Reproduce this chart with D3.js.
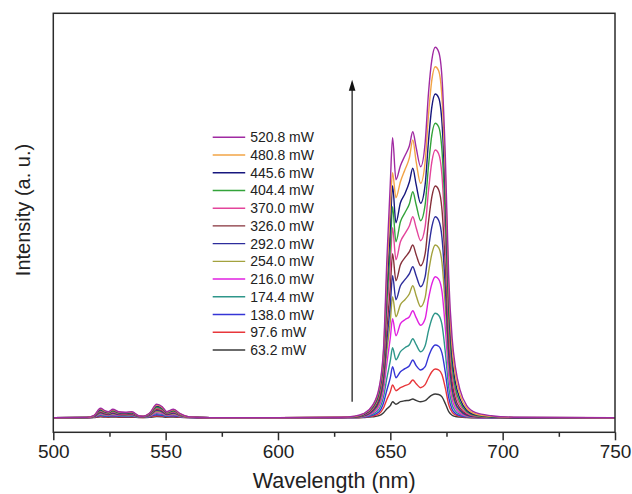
<!DOCTYPE html>
<html>
<head>
<meta charset="utf-8">
<script src="https://cdnjs.cloudflare.com/ajax/libs/d3/7.8.5/d3.min.js"></script>
<style>
  body { margin: 0; background: #fff; }
  svg { display: block; font-family: "Liberation Sans", Arial, sans-serif; }
  .frame { fill: none; stroke: #2b2b2b; stroke-width: 1.5; }
  .tick line { stroke: #2b2b2b; stroke-width: 1.5; }
  .tick text { fill: #222; }
  .spec { fill: none; stroke-width: 1.4; stroke-linejoin: round; }
</style>
</head>
<body>
<svg id="chart" width="632" height="494"></svg>
<script>
// wavelength grid (nm)
const wavelengths = [
  500, 515, 518, 521, 523, 524.5, 526.5, 529, 532, 535, 538, 540, 543, 546, 548.5, 550.5, 553.5, 556.5, 560, 570,
  600, 628, 634, 638, 642, 645, 647, 648.5, 650, 651, 652.5, 654.5, 656.5, 658.5, 660, 661.5, 663.5, 665.5,
  667, 668.5, 670, 671.5, 673, 674.5, 676, 677.5, 679, 681, 684, 688, 695, 705, 750
];

// pump powers, low to high
const powers = ['63.2 mW', '97.6 mW', '138.0 mW', '174.4 mW', '216.0 mW', '254.0 mW', '292.0 mW',
  '326.0 mW', '370.0 mW', '404.4 mW', '445.6 mW', '480.8 mW', '520.8 mW'];

const colors = ['#3a3a3a', '#e8373b', '#3535d6', '#2e968a', '#e021e0', '#a3a23e', '#2d2d9c',
  '#86303a', '#e3449b', '#33a33a', '#17177e', '#f2a446', '#a02aa2'];

// intensity (a. u.) at each wavelength
const i63_2 = [0, 0, 0.2, 0.8, 0.6, 0.5, 0.7, 0.5, 0.4, 0.5, 0.2, 0.1, 0.4, 1.1, 0.9, 0.5, 0.7, 0.3, 0.1, 0,
  0, 0, 0, 0.2, 0.8, 2, 5, 9, 12, 16, 13.5, 16, 17, 17.5, 18.7, 17.3, 16, 17, 20, 22.5, 23.7, 23.2, 20.8, 14, 6, 2.4, 1.2, 0.6, 0.2, 0, 0, 0, 0];
const i97_6 = [0, 0, 0.3, 1.4, 1.1, 0.9, 1.3, 0.9, 0.8, 0.9, 0.3, 0.2, 0.8, 2, 1.7, 0.9, 1.3, 0.6, 0.2, 0,
  0, 0, 0.1, 0.4, 1.6, 4, 10, 18.5, 26, 32.7, 27, 30, 32, 34, 37.7, 34, 30, 33, 40, 46, 48.7, 47.8, 43, 29.5, 13, 5.5, 2.8, 1.4, 0.5, 0.1, 0, 0, 0];
const i138_0 = [0, 0.1, 0.4, 2.1, 1.5, 1.3, 1.9, 1.3, 1.2, 1.3, 0.4, 0.3, 1.1, 3, 2.4, 1.3, 1.9, 0.9, 0.2, 0,
  0, 0, 0.2, 0.6, 2.4, 6, 15, 28, 40, 51, 40, 46, 49, 52, 57.7, 52, 47.7, 51, 61, 69, 72.7, 71.5, 64.5, 45, 20, 8.5, 4.3, 2.1, 0.8, 0.2, 0, 0, 0];
const i174_4 = [0, 0.1, 0.6, 2.9, 2.1, 1.8, 2.6, 1.8, 1.7, 1.8, 0.6, 0.5, 1.5, 4.1, 3.3, 1.8, 2.6, 1.2, 0.3, 0,
  0, 0, 0.3, 0.9, 3.4, 8.5, 21, 40, 57, 70, 58, 66, 70, 73, 79, 73, 66, 72, 87, 99, 104.4, 102.5, 93, 65, 30, 13, 6.5, 3.2, 1.1, 0.3, 0, 0, 0];
const i216_0 = [0, 0.1, 0.8, 3.6, 2.7, 2.3, 3.2, 2.3, 2.1, 2.3, 0.8, 0.6, 1.9, 5.1, 4.2, 2.3, 3.2, 1.5, 0.4, 0,
  0, 0.1, 0.4, 1.2, 4.6, 11.5, 28, 55, 80, 99, 82, 94, 98, 101, 107, 100, 92.5, 99, 119, 134, 141, 138.5, 126, 89, 42, 18.5, 9.5, 4.6, 1.6, 0.4, 0.1, 0, 0];
const i254_0 = [0, 0.1, 0.9, 4.4, 3.2, 2.8, 3.9, 2.8, 2.5, 2.8, 0.9, 0.7, 2.3, 6.2, 5.1, 2.8, 3.9, 1.8, 0.5, 0,
  0, 0.1, 0.5, 1.5, 5.6, 14, 34, 67, 97, 121, 101, 113, 118, 124, 132, 122, 111, 120, 145, 164, 172.7, 170, 155, 110, 53, 24, 12.5, 6.2, 2.2, 0.6, 0.1, 0, 0];
const i292_0 = [0, 0.2, 1.1, 5.1, 3.8, 3.2, 4.6, 3.2, 3, 3.2, 1.1, 0.8, 2.7, 7.3, 5.9, 3.2, 4.6, 2.2, 0.5, 0,
  0, 0.1, 0.6, 1.8, 6.5, 16.5, 39, 78, 113, 142, 118, 132, 138, 144, 151, 142, 131, 141, 169, 191, 201, 197.5, 180, 129, 63, 29, 15, 7.5, 2.7, 0.8, 0.2, 0, 0];
const i326_0 = [0, 0.2, 1.2, 5.9, 4.3, 3.7, 5.3, 3.7, 3.4, 3.7, 1.2, 0.9, 3.1, 8.4, 6.8, 3.7, 5.3, 2.5, 0.6, 0,
  0, 0.2, 0.7, 2.2, 7.5, 19, 45, 90, 131, 164, 137, 153, 160, 166, 172.7, 163, 152, 164, 196, 221, 231.7, 228, 208, 151, 76, 36, 19, 9.5, 3.5, 1.1, 0.3, 0, 0];
const i370_0 = [0, 0.2, 1.4, 6.7, 4.9, 4.2, 6, 4.2, 3.9, 4.2, 1.4, 1.1, 3.5, 9.5, 7.7, 4.2, 6, 2.8, 0.7, 0,
  0, 0.2, 0.8, 2.6, 8.7, 22, 52, 105, 153, 190, 158, 176, 184, 192, 201, 190, 177, 191, 227, 256, 267.7, 264, 242, 178, 91, 44, 24, 12.5, 4.6, 1.6, 0.5, 0.1, 0];
const i404_4 = [0, 0.2, 1.6, 7.4, 5.5, 4.7, 6.6, 4.7, 4.3, 4.7, 1.6, 1.2, 3.9, 10.5, 8.6, 4.7, 6.6, 3.1, 0.8, 0,
  0, 0.3, 0.9, 2.9, 9.5, 24, 57, 117, 170, 211, 176, 196, 205, 214, 226, 213, 197, 213, 252, 283, 294.4, 291, 267, 199, 103, 52, 29, 15.5, 6, 2.2, 0.7, 0.1, 0];
const i445_6 = [0, 0.3, 1.7, 8.2, 6, 5.2, 7.3, 5.2, 4.7, 5.2, 1.7, 1.3, 4.3, 11.6, 9.5, 5.2, 7.3, 3.4, 0.9, 0,
  0, 0.3, 1, 3.2, 10.5, 26.5, 62, 130, 190, 232, 195, 215, 224, 236, 249.4, 233, 214.4, 233, 277, 311, 323.7, 320, 295, 222, 118, 61, 35, 19, 7.5, 2.8, 0.9, 0.2, 0];
const i480_8 = [0, 0.3, 1.9, 8.8, 6.5, 5.6, 7.9, 5.6, 5.1, 5.6, 1.9, 1.4, 4.7, 12.6, 10.2, 5.6, 7.9, 3.7, 0.9, 0,
  0, 0.4, 1.2, 3.6, 11.3, 28.5, 67, 145, 212, 245, 220, 236, 248, 260, 277.7, 256, 234.4, 256, 303, 338, 351, 347, 320, 243, 130, 70, 42, 23, 9.5, 3.7, 1.3, 0.3, 0];
const i520_8 = [0, 0.3, 2, 9.5, 7, 6, 8.5, 6, 5.5, 6, 2, 1.5, 5, 13.5, 11, 6, 8.5, 4, 1, 0,
  0, 0.5, 1.5, 4, 12, 30, 70, 160, 235, 280, 238, 252, 262, 272, 286, 270, 251, 275, 325, 358, 370.4, 366, 340, 260, 140, 80, 50, 28, 12, 5, 2, 0.5, 0];

const spectra = [i63_2, i97_6, i138_0, i174_4, i216_0, i254_0, i292_0, i326_0, i370_0, i404_4, i445_6, i480_8, i520_8];

const majorTicks = [500, 550, 600, 650, 700, 750];
const minorTicks = [525, 575, 625, 675, 725];

// arrow marking increasing power: wavelength, from / to intensity
const arrowAt = 633;
const arrowFrom = 16;
const arrowTo = 338;

const margin = {top: 13.3, right: 17, bottom: 61.7, left: 53.3};
const svgW = 632, svgH = 494;
const width = svgW - margin.left - margin.right;
const height = svgH - margin.top - margin.bottom;

const svg = d3.select('#chart');
const chart = svg.append('g')
  .attr('transform', `translate(${margin.left}, ${margin.top})`);

const x = d3.scaleLinear().domain([500, 750]).range([0, width]);
const y = d3.scaleLinear().domain([-14.6, 404.4]).range([height, 0]);

chart.append('clipPath').attr('id', 'clip')
  .append('rect').attr('width', width).attr('height', height);

const line = d3.line()
  .x((d, i) => x(wavelengths[i]))
  .y(d => y(d))
  .curve(d3.curveMonotoneX);

chart.append('g')
  .attr('clip-path', 'url(#clip)')
  .selectAll('path')
  .data(spectra)
  .enter().append('path')
  .attr('class', 'spec')
  .attr('stroke', (d, i) => colors[i])
  .attr('d', line);

// arrow
const ax = x(arrowAt);
chart.append('line')
  .attr('x1', ax).attr('x2', ax)
  .attr('y1', y(arrowFrom)).attr('y2', y(arrowTo) + 8)
  .attr('stroke', '#111').attr('stroke-width', 1.2);
chart.append('path')
  .attr('d', `M${ax},${y(arrowTo)} L${ax - 3.3},${y(arrowTo) + 11} L${ax + 3.3},${y(arrowTo) + 11} Z`)
  .attr('fill', '#111');

// x axis
const xAxis = d3.axisBottom(x)
  .tickValues(majorTicks)
  .tickSize(8)
  .tickPadding(4)
  .tickFormat(d3.format('d'));

const axisX = chart.append('g')
  .attr('transform', `translate(0, ${height})`)
  .call(xAxis);
axisX.select('.domain').remove();
axisX.selectAll('text').attr('font-size', 19).attr('font-family', '"Liberation Sans", Arial, sans-serif');

chart.append('g')
  .attr('transform', `translate(0, ${height})`)
  .call(d3.axisBottom(x).tickValues(minorTicks).tickSize(4.5).tickFormat(''))
  .select('.domain').remove();

// frame
chart.append('rect')
  .attr('class', 'frame')
  .attr('width', width)
  .attr('height', height);

// axis titles
svg.append('text')
  .attr('x', margin.left + width / 2)
  .attr('y', 488)
  .attr('text-anchor', 'middle')
  .attr('font-size', 21.5)
  .attr('fill', '#222')
  .text('Wavelength (nm)');

svg.append('text')
  .attr('transform', 'translate(29.5, 210) rotate(-90)')
  .attr('text-anchor', 'middle')
  .attr('font-size', 20)
  .attr('fill', '#222')
  .text('Intensity (a. u.)');

// legend, highest power on top
const legend = svg.append('g').attr('transform', 'translate(212.7, 137.3)');
const rows = d3.range(powers.length).reverse();
const item = legend.selectAll('g')
  .data(rows)
  .enter().append('g')
  .attr('transform', (d, i) => `translate(0, ${i * 17.72})`);
item.append('line')
  .attr('x1', 0).attr('x2', 32.5)
  .attr('stroke', d => colors[d])
  .attr('stroke-width', 1.4);
item.append('text')
  .attr('x', 37.5)
  .attr('y', 5)
  .attr('font-size', 14)
  .attr('fill', '#222')
  .text(d => powers[d]);
</script>
</body>
</html>
